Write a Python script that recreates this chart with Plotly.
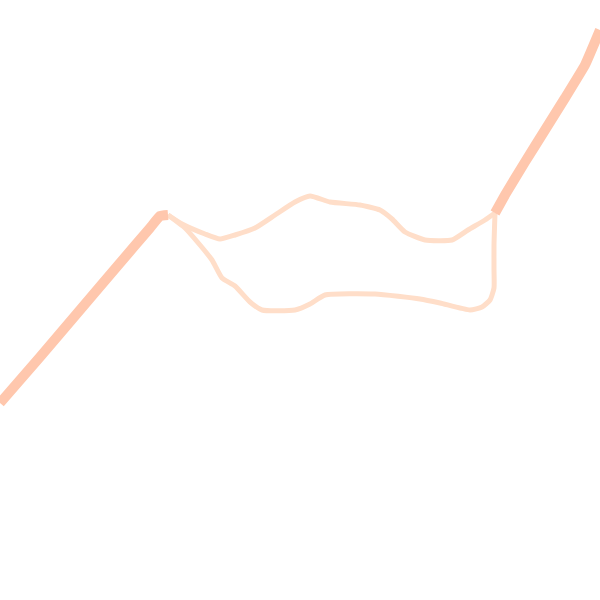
import plotly.graph_objects as go

trunk_left_x = [0, 40, 80, 120, 150, 160, 168]
trunk_left_y = [197, 243, 290, 337, 372, 384, 385]

trunk_right_x = [495, 505, 525, 545, 565, 585, 600]
trunk_right_y = [387, 405, 438, 470, 502, 535, 570]

# Upper branch
upper_x = [168, 182, 205, 220, 235, 255, 275, 295, 310, 330, 360, 380, 392, 405, 425, 452, 468, 485, 495]
upper_y = [385, 376, 366, 361, 365, 372, 385, 398, 404, 398, 395, 390, 381, 368, 360, 360, 370, 380, 387]

# Lower branch
lower_x = [168, 185, 200, 212, 222, 235, 250, 262, 295, 310, 325, 375, 420, 440, 470, 482, 490, 494, 494, 494, 495]
lower_y = [385, 372, 355, 340, 322, 314, 298, 290, 290, 296, 305, 306, 301, 297, 290, 293, 300, 312, 330, 355, 387]

fig = go.Figure()
branch_style = dict(color="#ffdec9", width=5, shape="spline", smoothing=0.5)
trunk_style = dict(color="#ffc7ad", width=10, shape="spline", smoothing=0.3)

for xs, ys in [(upper_x, upper_y), (lower_x, lower_y)]:
    fig.add_trace(go.Scatter(x=xs, y=ys, mode="lines", line=branch_style,
                             hoverinfo="skip", showlegend=False))
for xs, ys in [(trunk_left_x, trunk_left_y), (trunk_right_x, trunk_right_y)]:
    fig.add_trace(go.Scatter(x=xs, y=ys, mode="lines", line=trunk_style,
                             hoverinfo="skip", showlegend=False))

fig.update_layout(
    width=600, height=600,
    margin=dict(l=0, r=0, t=0, b=0),
    paper_bgcolor="white", plot_bgcolor="white",
    xaxis=dict(range=[0, 600], visible=False, fixedrange=True),
    yaxis=dict(range=[0, 600], visible=False, fixedrange=True),
)
fig.write_html("out.html", config={"displayModeBar": False},
               post_script="document.body.style.margin='0';")
